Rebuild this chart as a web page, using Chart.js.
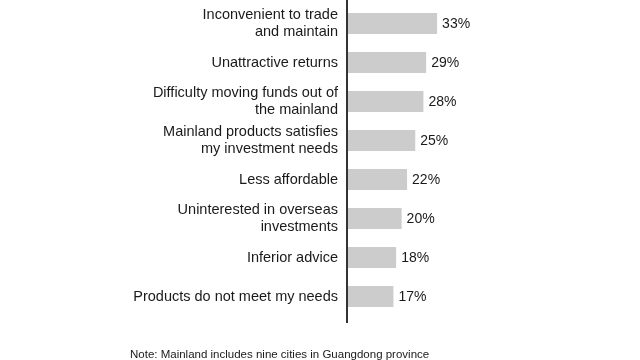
<!DOCTYPE html>
<html>
<head>
<meta charset="utf-8">
<script src="https://cdn.jsdelivr.net/npm/chart.js@4/dist/chart.umd.min.js"></script>
<style>
  html, body { margin: 0; padding: 0; background: #fff; }
  #wrap { position: relative; width: 640px; height: 360px; }
  #note { position: absolute; left: 130px; top: 348px; font: 11.5px "Liberation Sans", Arial, sans-serif; color: #1a1a1a; white-space: nowrap; }
</style>
</head>
<body>
<div id="wrap">
  <canvas id="reasonChart" width="640" height="360"></canvas>
  <div id="note">Note: Mainland includes nine cities in Guangdong province</div>
</div>
<script>
const reasons = [
    ["Inconvenient to trade", "and maintain"],
    "Unattractive returns",
    ["Difficulty moving funds out of", "the mainland"],
    ["Mainland products satisfies", "my investment needs"],
    "Less affordable",
    ["Uninterested in overseas", "investments"],
    "Inferior advice",
    "Products do not meet my needs"
];
const shares = [33, 29, 28, 25, 22, 20, 18, 17];

const fontFamily = '"Liberation Sans", Arial, sans-serif';

// value labels at the end of each bar + the extended vertical axis line
const barLabels = {
    id: "barLabels",
    afterDatasetsDraw(chart) {
        const ctx = chart.ctx;
        const meta = chart.getDatasetMeta(0);
        ctx.save();
        ctx.font = "14px " + fontFamily;
        ctx.fillStyle = "#1a1a1a";
        ctx.textAlign = "left";
        ctx.textBaseline = "middle";
        meta.data.forEach((bar, i) => {
            ctx.fillText(shares[i] + "%", bar.x + 5, bar.y + 1);
        });
        const x = chart.scales.y.right;
        ctx.strokeStyle = "#333";
        ctx.lineWidth = 2;
        ctx.beginPath();
        ctx.moveTo(x, chart.chartArea.top - 4);
        ctx.lineTo(x, chart.chartArea.bottom + 7);
        ctx.stroke();
        ctx.restore();
    }
};

new Chart(document.getElementById("reasonChart").getContext("2d"), {
    type: "bar",
    data: {
        labels: reasons,
        datasets: [{
            data: shares,
            backgroundColor: "#cccccc",
            borderWidth: 0,
            barPercentage: 0.54,
            categoryPercentage: 1
        }]
    },
    options: {
        indexAxis: "y",
        responsive: false,
        animation: false,
        layout: { padding: { top: 4, bottom: 44, left: 0, right: 20 } },
        plugins: {
            legend: { display: false },
            tooltip: { enabled: false }
        },
        scales: {
            x: { display: false, min: 0, max: 100 },
            y: {
                grid: { display: false, drawTicks: false },
                border: { display: false },
                afterFit: scale => {
                    scale.width = 347;
                    scale.paddingTop = 0;
                    scale.paddingBottom = 0;
                },
                ticks: {
                    padding: 9,
                    color: "#1a1a1a",
                    font: { family: fontFamily, size: 14.5, lineHeight: 1.17 }
                }
            }
        }
    },
    plugins: [barLabels]
});
</script>
</body>
</html>
